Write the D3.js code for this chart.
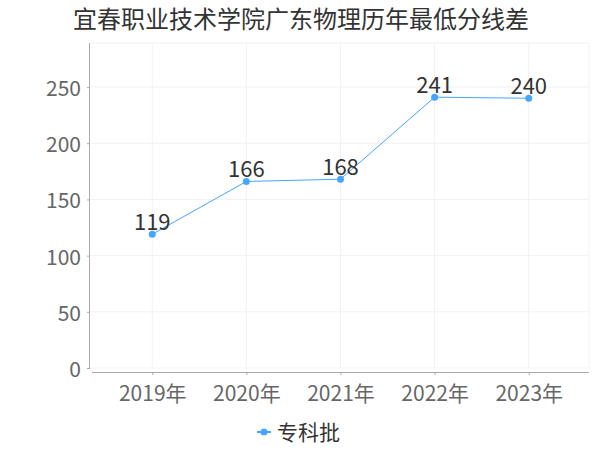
<!DOCTYPE html>
<html><head><meta charset="utf-8">
<script src="https://cdn.jsdelivr.net/npm/d3@7"></script>
<style>body{margin:0;background:#fff}svg{display:block}text{font-family:"Noto Sans CJK SC","Noto Sans",sans-serif}</style>
</head><body><svg id="c" width="600" height="450"></svg>
<script>
const title = "宜春职业技术学院广东物理历年最低分线差";
const categories = ["2019年","2020年","2021年","2022年","2023年"];
const seriesName = "专科批";
const values = [119,166,168,241,240];
const yTicks = [0,50,100,150,200,250];

(function(){
const svg = d3.select("#c");
const color = "#45a5ff";
const pLeft = 90, pRight = 589, pTop = 43, pBottom = 368;
const x = d3.scalePoint().domain(categories).range([92, 589]).padding(0.64);
const y = d3.scaleLinear().domain([0, d3.max(values)*1.2]).range([pBottom, pTop]);

// grid
const g = svg.append("g");
g.selectAll(".hg").data(yTicks.concat([y.domain()[1]])).enter().append("line")
  .attr("x1", pLeft).attr("x2", pRight).attr("y1", d=>y(d)).attr("y2", d=>y(d))
  .attr("stroke", "#f2f2f2");
g.selectAll(".vg").data(categories).enter().append("line")
  .attr("x1", d=>x(d)).attr("x2", d=>x(d)).attr("y1", pTop).attr("y2", pBottom)
  .attr("stroke", "#f2f2f2");
g.append("line").attr("x1", pRight).attr("x2", pRight).attr("y1", pTop).attr("y2", pBottom).attr("stroke","#f2f2f2");

// y axis
const ya = svg.append("g").attr("transform", `translate(${pLeft},0)`)
  .call(d3.axisLeft(y).tickValues(yTicks).tickSize(3).tickPadding(6));
ya.select(".domain").attr("stroke", "#aaa").attr("d", `M-0.5,${pTop}V${pBottom}`);
ya.selectAll(".tick line").attr("stroke", "#aaa");
ya.selectAll(".tick text").attr("fill", "#666").attr("font-size", 21).attr("dy", "0.4em");

// x axis
const xa = svg.append("g").attr("transform", `translate(0,${pBottom+4})`)
  .call(d3.axisBottom(x).tickSize(3).tickPadding(6));
xa.select(".domain").attr("stroke", "#aaa").attr("d", `M92,0.5H${pRight}`);
xa.selectAll(".tick line").attr("stroke", "#aaa");
xa.selectAll(".tick text").attr("fill", "#666").attr("font-size", 21).attr("y", 29).attr("dy", 0);

// line
svg.append("path").datum(values)
  .attr("fill", "none").attr("stroke", color).attr("stroke-width", 1)
  .attr("d", d3.line().x((d,i)=>x(categories[i])).y(d=>y(d)));
svg.selectAll(".pt").data(values).enter().append("circle")
  .attr("cx", (d,i)=>x(categories[i])).attr("cy", d=>y(d)).attr("r", 3.5).attr("fill", color);
svg.selectAll(".lbl").data(values).enter().append("text")
  .attr("x", (d,i)=>x(categories[i])).attr("y", d=>y(d)-4)
  .attr("text-anchor", "middle").attr("font-size", 22).attr("fill", "#333").text(d=>d);

// title
svg.append("text").attr("x", 301).attr("y", 28).attr("text-anchor", "middle")
  .attr("font-size", 24).attr("fill", "#333").text(title);

// legend
const lg = svg.append("g");
lg.append("line").attr("x1", 257).attr("x2", 271).attr("y1", 432).attr("y2", 432).attr("stroke", color).attr("stroke-width", 2);
lg.append("circle").attr("cx", 264).attr("cy", 432).attr("r", 3.5).attr("fill", color);
lg.append("text").attr("x", 277).attr("y", 432).attr("dy", "0.36em").attr("font-size", 21).attr("fill", "#333").text(seriesName);
})();
</script></body></html>
